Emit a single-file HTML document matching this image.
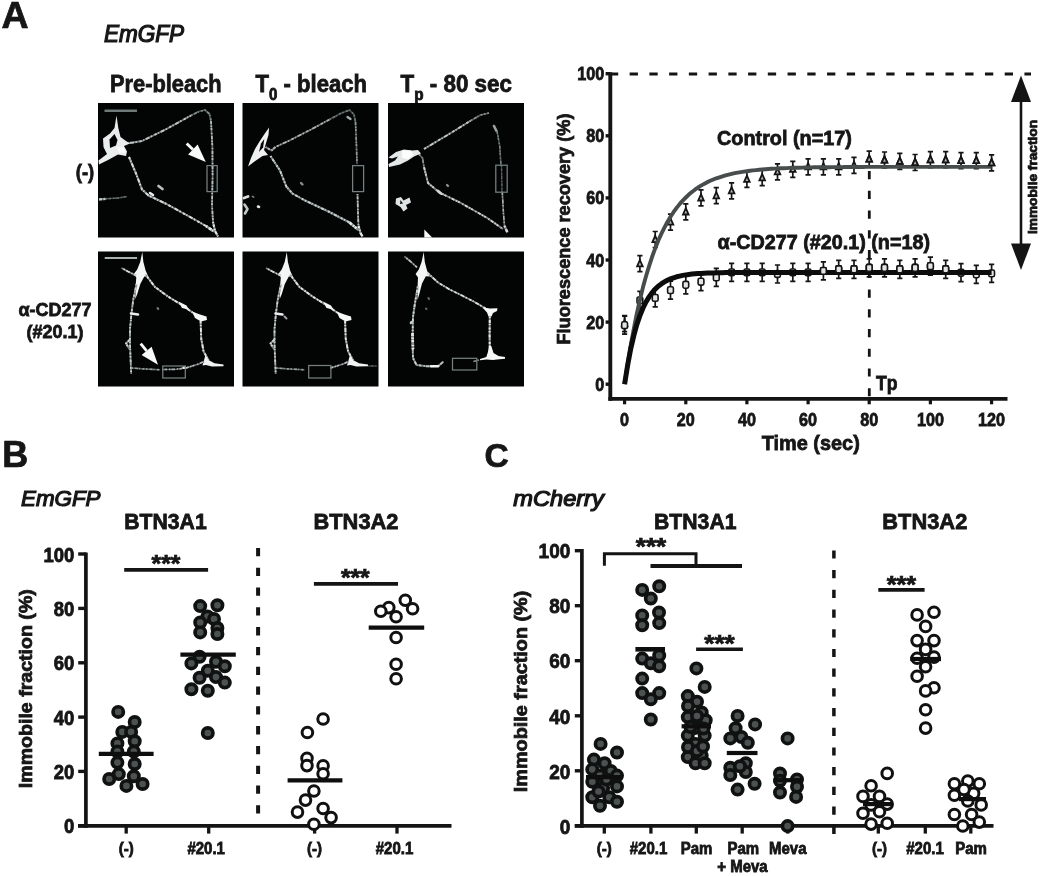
<!DOCTYPE html>
<html lang="en">
<head>
<meta charset="utf-8">
<title>FRAP analysis of BTN3A mobility</title>
<style>
html,body{margin:0;padding:0;background:#fff;}
body{width:1040px;height:876px;overflow:hidden;}
svg{display:block;filter:blur(.45px);}
svg text{font-family:"Liberation Sans",Arial,Helvetica,sans-serif;fill:#141414;stroke:#141414;stroke-width:.7px;}
</style>
</head>
<body>
<svg width="1040" height="876" viewBox="0 0 1040 876">
<defs>
<filter id="soft" x="-5%" y="-5%" width="110%" height="110%"><feGaussianBlur stdDeviation="0.55"/></filter>
<filter id="glow" x="-10%" y="-10%" width="120%" height="120%"><feGaussianBlur stdDeviation="1.1"/></filter>
<filter id="txt" x="-5%" y="-20%" width="110%" height="140%"><feGaussianBlur stdDeviation="0.45"/></filter>
</defs>
<rect width="1040" height="876" fill="#ffffff"/>

<g filter="url(#txt)">
<text x="1.5" y="28.2" font-size="37.5" text-anchor="start" font-weight="bold" stroke="#141414" stroke-width="0.9">A</text>
<text x="2.2" y="467.0" font-size="36" text-anchor="start" font-weight="bold" transform="translate(0 -9.34) scale(1 1.02)" stroke="#141414" stroke-width="0.9">B</text>
<text x="484.6" y="467.3" font-size="33.5" text-anchor="start" font-weight="bold" stroke="#141414" stroke-width="0.9">C</text>
<text x="104.0" y="42.0" font-size="21.5" text-anchor="start" font-weight="normal" font-style="italic" textLength="80.0" lengthAdjust="spacingAndGlyphs" transform="translate(0 -3.36) scale(1 1.08)" style="stroke-width:1.15px">EmGFP</text>
<text x="110.0" y="92.2" font-size="22" text-anchor="start" font-weight="bold" textLength="111.5" lengthAdjust="spacingAndGlyphs" transform="translate(0 -7.38) scale(1 1.08)">Pre-bleach</text>
<text x="255.5" y="92.2" font-size="22" font-weight="bold" textLength="111.5" lengthAdjust="spacingAndGlyphs" transform="translate(0 -7.38) scale(1 1.08)">T<tspan font-size="15" dy="7">0</tspan><tspan dy="-7"> - bleach</tspan></text>
<text x="400.5" y="92.2" font-size="22" font-weight="bold" textLength="111.5" lengthAdjust="spacingAndGlyphs" transform="translate(0 -7.38) scale(1 1.08)">T<tspan font-size="15" dy="7">p</tspan><tspan dy="-7"> - 80 sec</tspan></text>
<text x="85.0" y="179.3" font-size="19.5" text-anchor="middle" font-weight="bold" textLength="18.5" lengthAdjust="spacingAndGlyphs" transform="translate(0 -14.34) scale(1 1.08)">(-)</text>
<text x="55.0" y="316.5" font-size="17.5" text-anchor="middle" font-weight="bold" textLength="73.0" lengthAdjust="spacingAndGlyphs" transform="translate(0 -25.32) scale(1 1.08)">α-CD277</text>
<text x="55.0" y="338.0" font-size="17.5" text-anchor="middle" font-weight="bold" textLength="57.0" lengthAdjust="spacingAndGlyphs" transform="translate(0 -27.04) scale(1 1.08)">(#20.1)</text>
</g>
<rect x="98" y="103" width="136" height="134.5" fill="#030404"/>
<rect x="242.5" y="103" width="136" height="134.5" fill="#030404"/>
<rect x="388" y="103" width="136" height="134.5" fill="#030404"/>
<rect x="98" y="251.5" width="136" height="135" fill="#030404"/>
<rect x="242.5" y="251.5" width="136" height="135" fill="#030404"/>
<rect x="388" y="251.5" width="136" height="135" fill="#030404"/>
<g transform="translate(0.0 0)" filter="url(#soft)">
<path d="M123 143.5 L133 142.5 L142 141 L166.5 129 L191 115.5" fill="none" stroke="#737b7b" stroke-width="1.81" stroke-linejoin="round"/>
<path d="M123 143.5 L133 142.5 L142 141 L166.5 129 L191 115.5" fill="none" stroke="#c0c8c8" stroke-width="1.81" stroke-linejoin="round" stroke-dasharray="2.5 1.5 1 2 4 1.5 1.5 2.5"/>
<path d="M191 115.5 L199 111.5 L205 110 L209.5 114 L211 121" fill="none" stroke="#4f5757" stroke-width="1.72" stroke-linejoin="round"/>
<path d="M191 115.5 L199 111.5 L205 110 L209.5 114 L211 121" fill="none" stroke="#848d8d" stroke-width="1.72" stroke-linejoin="round" stroke-dasharray="1.5 2 3 1 1 2.5 2 1.5"/>
<path d="M211 121 L212.4 147 L212.6 176 L212 205 L213 222" fill="none" stroke="#6c7474" stroke-width="1.72" stroke-linejoin="round"/>
<path d="M211 121 L212.4 147 L212.6 176 L212 205 L213 222" fill="none" stroke="#b4bcbc" stroke-width="1.72" stroke-linejoin="round" stroke-dasharray="3 1.5 1.5 1 2 3 1 2"/>
<path d="M213 222 L215 231 L218 236.5" fill="none" stroke="#889090" stroke-width="2.06" stroke-linejoin="round"/>
<path d="M213 222 L215 231 L218 236.5" fill="none" stroke="#e4e8e8" stroke-width="2.06" stroke-linejoin="round" stroke-dasharray="1 1.5 2.5 2 1.5 1 3.5 2"/>
<path d="M129 157 L136 173.5 L142 189.5 L148.5 195.5 L166.5 204 L195.5 220 L206 226" fill="none" stroke="#808888" stroke-width="1.98" stroke-linejoin="round"/>
<path d="M129 157 L136 173.5 L142 189.5 L148.5 195.5 L166.5 204 L195.5 220 L206 226" fill="none" stroke="#d6dcdc" stroke-width="1.98" stroke-linejoin="round" stroke-dasharray="2.5 1.5 1 2 4 1.5 1.5 2.5"/>
<path d="M206 226 L214 231.5" fill="none" stroke="#8e9696" stroke-width="2.58" stroke-linejoin="round"/>
<path d="M206 226 L214 231.5" fill="none" stroke="#eef1f1" stroke-width="2.58" stroke-linejoin="round" stroke-dasharray="1.5 2 3 1 1 2.5 2 1.5"/>
<path d="M158.5 186 L162.5 189" fill="none" stroke="#b8c0c0" stroke-width="2.75" stroke-linecap="round" stroke-linejoin="round"/>
<path d="M150 193 L153 195" fill="none" stroke="#e8ecec" stroke-width="2.58" stroke-linecap="round" stroke-linejoin="round"/>
<path d="M116.5 115.5 L118.3 128 L120.5 137 L126 141 L130 143.5 L124 146 L127 151.5 L126 156 L118 154.5 L109 159.5 L99 164.5 L98.5 160.5 L107 154 L103.5 147 L103 138.5 L110 133.5 L114.5 128 Z" fill="#e9eded" opacity="1.0"/>
<path d="M109.5 139.5 L114.5 134 L117.5 140 L116 145.5 L110 148 Z" fill="#050606" opacity="1.0"/>
<path d="M117 147 L124 147.5 L125.5 152.5 L119 153 Z" fill="#f8f9f9" opacity="1.0"/>
<path d="M99 199.5 L106 198.8" fill="none" stroke="#757d7d" stroke-width="2.24" stroke-linejoin="round"/>
<path d="M99 199.5 L106 198.8" fill="none" stroke="#c4cccc" stroke-width="2.24" stroke-linejoin="round" stroke-dasharray="3 1.5 1.5 1 2 3 1 2"/>
<path d="M106 198.8 L118 198 L127 196.5" fill="none" stroke="#424a4a" stroke-width="1.38" stroke-linejoin="round"/>
<path d="M106 198.8 L118 198 L127 196.5" fill="none" stroke="#6f7878" stroke-width="1.38" stroke-linejoin="round" stroke-dasharray="1 1.5 2.5 2 1.5 1 3.5 2"/>
</g>
<g transform="translate(144.5 0)" filter="url(#soft)">
<path d="M132 146.5 L145 140.5 L166.5 129.5 L185 119.5" fill="none" stroke="#666e6e" stroke-width="1.72" stroke-linejoin="round"/>
<path d="M132 146.5 L145 140.5 L166.5 129.5 L185 119.5" fill="none" stroke="#aab2b2" stroke-width="1.72" stroke-linejoin="round" stroke-dasharray="2.5 1.5 1 2 4 1.5 1.5 2.5"/>
<path d="M185 119.5 L196 113.5 L205 110 L209.5 114.5 L211 122" fill="none" stroke="#434b4b" stroke-width="1.72" stroke-linejoin="round"/>
<path d="M185 119.5 L196 113.5 L205 110 L209.5 114.5 L211 122" fill="none" stroke="#707979" stroke-width="1.72" stroke-linejoin="round" stroke-dasharray="1.5 2 3 1 1 2.5 2 1.5"/>
<path d="M203 117 L206 119" fill="none" stroke="#a8b0b0" stroke-width="2.24" stroke-linecap="round" stroke-linejoin="round"/>
<path d="M211 122 L212 147 L212.5 164" fill="none" stroke="#555d5d" stroke-width="1.63" stroke-linejoin="round"/>
<path d="M211 122 L212 147 L212.5 164" fill="none" stroke="#8e9797" stroke-width="1.63" stroke-linejoin="round" stroke-dasharray="3 1.5 1.5 1 2 3 1 2"/>
<path d="M213 194 L213.5 214 L214 226" fill="none" stroke="#6e7676" stroke-width="1.72" stroke-linejoin="round"/>
<path d="M213 194 L213.5 214 L214 226" fill="none" stroke="#b8c0c0" stroke-width="1.72" stroke-linejoin="round" stroke-dasharray="1 1.5 2.5 2 1.5 1 3.5 2"/>
<path d="M214 226 L216 233 L218 236.5" fill="none" stroke="#889090" stroke-width="2.24" stroke-linejoin="round"/>
<path d="M214 226 L216 233 L218 236.5" fill="none" stroke="#e4e8e8" stroke-width="2.24" stroke-linejoin="round" stroke-dasharray="2.5 1.5 1 2 4 1.5 1.5 2.5"/>
<path d="M126 156 L135.5 170.5 L141.8 186.5 L148 193.5 L159.5 200 L185 212 L205 222.5" fill="none" stroke="#788080" stroke-width="1.98" stroke-linejoin="round"/>
<path d="M126 156 L135.5 170.5 L141.8 186.5 L148 193.5 L159.5 200 L185 212 L205 222.5" fill="none" stroke="#c8d0d0" stroke-width="1.98" stroke-linejoin="round" stroke-dasharray="1.5 2 3 1 1 2.5 2 1.5"/>
<path d="M205 222.5 L214 230" fill="none" stroke="#8b9393" stroke-width="2.58" stroke-linejoin="round"/>
<path d="M205 222.5 L214 230" fill="none" stroke="#e8ecec" stroke-width="2.58" stroke-linejoin="round" stroke-dasharray="3 1.5 1.5 1 2 3 1 2"/>
<path d="M156.5 183 L158 184.5" fill="none" stroke="#8a9393" stroke-width="2.24" stroke-linecap="round" stroke-linejoin="round"/>
<path d="M124.6 127.5 L124 135 L121.5 143 L119.5 150 L123.5 155 L118 156 L110 161.5 L103.5 166.5 L106.5 158 L110.5 149 L115 141.5 L120 134 Z" fill="#eef1f1" opacity="1.0"/>
<path d="M116.5 143.5 L119.8 139 L118.6 147.5 L114.5 152 Z" fill="#050606" opacity="1.0"/>
<path d="M121 147 L127 150.5 L131 147" fill="none" stroke="#697171" stroke-width="1.89" stroke-linejoin="round"/>
<path d="M121 147 L127 150.5 L131 147" fill="none" stroke="#b0b8b8" stroke-width="1.89" stroke-linejoin="round" stroke-dasharray="1 1.5 2.5 2 1.5 1 3.5 2"/>
<path d="M99.5 198 L103.5 196.5" fill="none" stroke="#d8dddd" stroke-width="2.92" stroke-linecap="round" stroke-linejoin="round"/>
<path d="M100 204.5 L103 209 L100.5 213.5" fill="none" stroke="#c0c8c8" stroke-width="2.58" stroke-linecap="round" stroke-linejoin="round"/>
<path d="M113.5 206.5 L114.5 207" fill="none" stroke="#e4e8e8" stroke-width="2.58" stroke-linecap="round" stroke-linejoin="round"/>
<path d="M108 196.5 L109 197" fill="none" stroke="#707979" stroke-width="1.89" stroke-linecap="round" stroke-linejoin="round"/>
</g>
<g transform="translate(290.0 0)" filter="url(#soft)">
<path d="M134 149 L160 133.5 L181 120.5" fill="none" stroke="#737b7b" stroke-width="1.81" stroke-linejoin="round"/>
<path d="M134 149 L160 133.5 L181 120.5" fill="none" stroke="#c0c8c8" stroke-width="1.81" stroke-linejoin="round" stroke-dasharray="2.5 1.5 1 2 4 1.5 1.5 2.5"/>
<path d="M181 120.5 L190.5 115 L199 113" fill="none" stroke="#525a5a" stroke-width="1.72" stroke-linejoin="round"/>
<path d="M181 120.5 L190.5 115 L199 113" fill="none" stroke="#8a9393" stroke-width="1.72" stroke-linejoin="round" stroke-dasharray="1.5 2 3 1 1 2.5 2 1.5"/>
<path d="M204 126 L206.5 131" fill="none" stroke="#9aa3a3" stroke-width="2.58" stroke-linecap="round" stroke-linejoin="round"/>
<path d="M207 131 L209.7 146 L211 166" fill="none" stroke="#4c5454" stroke-width="1.46" stroke-linejoin="round"/>
<path d="M207 131 L209.7 146 L211 166" fill="none" stroke="#7f8888" stroke-width="1.46" stroke-linejoin="round" stroke-dasharray="3 1.5 1.5 1 2 3 1 2"/>
<path d="M211.5 166 L212 192" fill="none" stroke="#394141" stroke-width="1.29" stroke-linejoin="round"/>
<path d="M211.5 166 L212 192" fill="none" stroke="#5f6868" stroke-width="1.29" stroke-linejoin="round" stroke-dasharray="1 1.5 2.5 2 1.5 1 3.5 2"/>
<path d="M212.3 192.5 L213.5 214 L214.5 226" fill="none" stroke="#646c6c" stroke-width="1.55" stroke-linejoin="round"/>
<path d="M212.3 192.5 L213.5 214 L214.5 226" fill="none" stroke="#a8b0b0" stroke-width="1.55" stroke-linejoin="round" stroke-dasharray="2.5 1.5 1 2 4 1.5 1.5 2.5"/>
<path d="M214.5 226 L217.5 232.5" fill="none" stroke="#818989" stroke-width="2.41" stroke-linejoin="round"/>
<path d="M214.5 226 L217.5 232.5" fill="none" stroke="#d8dddd" stroke-width="2.41" stroke-linejoin="round" stroke-dasharray="1.5 2 3 1 1 2.5 2 1.5"/>
<path d="M134 167 L138 183 L149.4 192.5 L171.3 203.2 L196.9 217.8 L213 229" fill="none" stroke="#7a8282" stroke-width="1.89" stroke-linejoin="round"/>
<path d="M134 167 L138 183 L149.4 192.5 L171.3 203.2 L196.9 217.8 L213 229" fill="none" stroke="#ccd3d3" stroke-width="1.89" stroke-linejoin="round" stroke-dasharray="3 1.5 1.5 1 2 3 1 2"/>
<path d="M127 152 L132.5 158 L134 167" fill="none" stroke="#575f5f" stroke-width="1.55" stroke-linejoin="round"/>
<path d="M127 152 L132.5 158 L134 167" fill="none" stroke="#929b9b" stroke-width="1.55" stroke-linejoin="round" stroke-dasharray="1 1.5 2.5 2 1.5 1 3.5 2"/>
<path d="M148 191 L151 193.5" fill="none" stroke="#d0d6d6" stroke-width="2.92" stroke-linecap="round" stroke-linejoin="round"/>
<path d="M157 185 L158 186" fill="none" stroke="#8a9393" stroke-width="2.24" stroke-linecap="round" stroke-linejoin="round"/>
<path d="M98.5 157.5 L106 152 L114 149.5 L122 150.5 L128 150 L131 153.5 L124 156.5 L118 160.5 L110 164.5 L99 167 L98.5 164 L105 160.5 L108 156.5 L102 158.5 Z" fill="#e4e8e8" opacity="1.0"/>
<path d="M112 150.5 L121 150.5 L123.5 155 L117.5 159.5 L111.5 157.5 Z" fill="#fbfcfc" opacity="1.0"/>
<path d="M106 198.5 L111 197 L113.5 200.5 L119.5 197.5 L121 202.5 L116 205 L117.5 208.5 L113.5 211.5 L110.5 207 L105.5 204 Z" fill="#dfe4e4" opacity="1.0"/>
<path d="M110.5 200 L113 203.5 L110 204 Z" fill="#101212" opacity="1.0"/>
<path d="M134.3 229.5 L142.2 237.5 L134.3 237.5 Z" fill="#fafafa" opacity="1.0"/>
</g>
<line x1="104.5" y1="110.8" x2="137.0" y2="110.8" stroke="#6f7878" stroke-width="2.6"/>
<line x1="104.7" y1="258.0" x2="137.1" y2="258.0" stroke="#aab2b2" stroke-width="1.9"/>
<rect x="207.0" y="165.6" width="10.2" height="26.0" fill="none" stroke="#768080" stroke-width="1.25"/>
<rect x="352.6" y="165.6" width="11.0" height="26.0" fill="none" stroke="#768080" stroke-width="1.25"/>
<rect x="495.8" y="165.2" width="11.4" height="27.0" fill="none" stroke="#768080" stroke-width="1.25"/>
<line x1="186.7" y1="143.5" x2="192.9" y2="149.5" stroke="#fafafa" stroke-width="2.9"/>
<polygon points="205.8,162.0 188.1,154.4 197.6,144.6" fill="#fafafa"/>
<g transform="translate(0.0 0)" filter="url(#soft)">
<path d="M142.3 252 L143.4 262 L145.6 270.5 L148.5 277 L144.3 276.5 L140.3 284 L137.3 294 L135.2 299 L135.6 286 L136.3 277.5 L133.8 274 L137.2 269.5 L140.2 262 Z" fill="#f4f6f6" opacity="1.0"/>
<path d="M136 275.5 L128 271.5 L121.5 268" fill="none" stroke="#7f8787" stroke-width="1.72" stroke-linejoin="round"/>
<path d="M136 275.5 L128 271.5 L121.5 268" fill="none" stroke="#d4dada" stroke-width="1.72" stroke-linejoin="round" stroke-dasharray="2.5 1.5 1 2 4 1.5 1.5 2.5"/>
<path d="M136.5 284 L133.2 300 L131.5 313 L130 329 L130 345 L130.7 361.5 L131.2 374" fill="none" stroke="#788080" stroke-width="1.81" stroke-linejoin="round"/>
<path d="M136.5 284 L133.2 300 L131.5 313 L130 329 L130 345 L130.7 361.5 L131.2 374" fill="none" stroke="#c8d0d0" stroke-width="1.81" stroke-linejoin="round" stroke-dasharray="1.5 2 3 1 1 2.5 2 1.5"/>
<path d="M131 313.5 L138 314.5" fill="none" stroke="#e8ecec" stroke-width="2.58" stroke-linecap="round" stroke-linejoin="round"/>
<path d="M130 339.5 L126 343.5 L129.5 349" fill="none" stroke="#7c8484" stroke-width="1.89" stroke-linejoin="round"/>
<path d="M130 339.5 L126 343.5 L129.5 349" fill="none" stroke="#d0d6d6" stroke-width="1.89" stroke-linejoin="round" stroke-dasharray="3 1.5 1.5 1 2 3 1 2"/>
<path d="M145.5 274.5 L155 287 L168 296.5 L182.5 305.5 L195.5 314.5 L205 318.5" fill="none" stroke="#868e8e" stroke-width="1.89" stroke-linejoin="round"/>
<path d="M145.5 274.5 L155 287 L168 296.5 L182.5 305.5 L195.5 314.5 L205 318.5" fill="none" stroke="#e0e5e5" stroke-width="1.89" stroke-linejoin="round" stroke-dasharray="1 1.5 2.5 2 1.5 1 3.5 2"/>
<path d="M178.5 301.5 L186.5 305.5 L189 309.5 L182 308 Z" fill="#f4f6f6" opacity="1.0"/>
<path d="M192 311.5 L200 314.5 L206.5 316.5 L207 320 L201 321.5 L195 318 Z" fill="#f6f8f8" opacity="1.0"/>
<path d="M200.6 321 L201.2 338.5 L203.6 351.5 L208.5 360" fill="none" stroke="#858d8d" stroke-width="1.89" stroke-linejoin="round"/>
<path d="M200.6 321 L201.2 338.5 L203.6 351.5 L208.5 360" fill="none" stroke="#dfe4e4" stroke-width="1.89" stroke-linejoin="round" stroke-dasharray="2.5 1.5 1 2 4 1.5 1.5 2.5"/>
<path d="M205.5 355 L208.5 360 L214.5 363.3 L223.5 364.6 L223.5 366.2 L212 366.6 L206 365 L202.5 365.6 Z" fill="#f0f3f3" opacity="1.0"/>
<path d="M131.5 368 L145 369 L160 369.8" fill="none" stroke="#5b6363" stroke-width="1.63" stroke-linejoin="round"/>
<path d="M131.5 368 L145 369 L160 369.8" fill="none" stroke="#98a1a1" stroke-width="1.63" stroke-linejoin="round" stroke-dasharray="1.5 2 3 1 1 2.5 2 1.5"/>
<path d="M185.8 368 L198.7 364 L204 361.5" fill="none" stroke="#6e7676" stroke-width="1.63" stroke-linejoin="round"/>
<path d="M185.8 368 L198.7 364 L204 361.5" fill="none" stroke="#b8c0c0" stroke-width="1.63" stroke-linejoin="round" stroke-dasharray="3 1.5 1.5 1 2 3 1 2"/>
<path d="M162 369.5 L176 369.3 L185.5 368" fill="none" stroke="#646c6c" stroke-width="1.63" stroke-linejoin="round"/>
<path d="M162 369.5 L176 369.3 L185.5 368" fill="none" stroke="#a8b0b0" stroke-width="1.63" stroke-linejoin="round" stroke-dasharray="1 1.5 2.5 2 1.5 1 3.5 2"/>
<path d="M183.5 367.8 L185 367.6" fill="none" stroke="#e8ecec" stroke-width="2.58" stroke-linecap="round" stroke-linejoin="round"/>
<path d="M157.5 308 L158.3 309" fill="none" stroke="#6f7878" stroke-width="2.06" stroke-linecap="round" stroke-linejoin="round"/>
</g>
<g transform="translate(144.5 0)" filter="url(#soft)">
<path d="M142.3 252 L143.4 262 L145.6 270.5 L148.5 277 L144.3 276.5 L140.3 284 L137.3 294 L135.2 299 L135.6 286 L136.3 277.5 L133.8 274 L137.2 269.5 L140.2 262 Z" fill="#f4f6f6" opacity="1.0"/>
<path d="M136 275.5 L128 271.5 L121.5 268" fill="none" stroke="#7f8787" stroke-width="1.72" stroke-linejoin="round"/>
<path d="M136 275.5 L128 271.5 L121.5 268" fill="none" stroke="#d4dada" stroke-width="1.72" stroke-linejoin="round" stroke-dasharray="2.5 1.5 1 2 4 1.5 1.5 2.5"/>
<path d="M136.5 284 L133.2 300 L131.5 313 L130 329 L130 345 L130.7 361.5 L131.2 374" fill="none" stroke="#788080" stroke-width="1.81" stroke-linejoin="round"/>
<path d="M136.5 284 L133.2 300 L131.5 313 L130 329 L130 345 L130.7 361.5 L131.2 374" fill="none" stroke="#c8d0d0" stroke-width="1.81" stroke-linejoin="round" stroke-dasharray="1.5 2 3 1 1 2.5 2 1.5"/>
<path d="M131 313.5 L138 314.5" fill="none" stroke="#e8ecec" stroke-width="2.58" stroke-linecap="round" stroke-linejoin="round"/>
<path d="M130 339.5 L126 343.5 L129.5 349" fill="none" stroke="#7c8484" stroke-width="1.89" stroke-linejoin="round"/>
<path d="M130 339.5 L126 343.5 L129.5 349" fill="none" stroke="#d0d6d6" stroke-width="1.89" stroke-linejoin="round" stroke-dasharray="3 1.5 1.5 1 2 3 1 2"/>
<path d="M145.5 274.5 L155 287 L168 296.5 L182.5 305.5 L195.5 314.5 L205 318.5" fill="none" stroke="#868e8e" stroke-width="1.89" stroke-linejoin="round"/>
<path d="M145.5 274.5 L155 287 L168 296.5 L182.5 305.5 L195.5 314.5 L205 318.5" fill="none" stroke="#e0e5e5" stroke-width="1.89" stroke-linejoin="round" stroke-dasharray="1 1.5 2.5 2 1.5 1 3.5 2"/>
<path d="M178.5 301.5 L186.5 305.5 L189 309.5 L182 308 Z" fill="#f4f6f6" opacity="1.0"/>
<path d="M192 311.5 L200 314.5 L206.5 316.5 L207 320 L201 321.5 L195 318 Z" fill="#f6f8f8" opacity="1.0"/>
<path d="M200.6 321 L201.2 338.5 L203.6 351.5 L208.5 360" fill="none" stroke="#858d8d" stroke-width="1.89" stroke-linejoin="round"/>
<path d="M200.6 321 L201.2 338.5 L203.6 351.5 L208.5 360" fill="none" stroke="#dfe4e4" stroke-width="1.89" stroke-linejoin="round" stroke-dasharray="2.5 1.5 1 2 4 1.5 1.5 2.5"/>
<path d="M205.5 355 L208.5 360 L214.5 363.3 L223.5 364.6 L223.5 366.2 L212 366.6 L206 365 L202.5 365.6 Z" fill="#f0f3f3" opacity="1.0"/>
<path d="M131.5 368 L145 369 L160 369.8" fill="none" stroke="#5b6363" stroke-width="1.63" stroke-linejoin="round"/>
<path d="M131.5 368 L145 369 L160 369.8" fill="none" stroke="#98a1a1" stroke-width="1.63" stroke-linejoin="round" stroke-dasharray="1.5 2 3 1 1 2.5 2 1.5"/>
<path d="M185.8 368 L198.7 364 L204 361.5" fill="none" stroke="#6e7676" stroke-width="1.63" stroke-linejoin="round"/>
<path d="M185.8 368 L198.7 364 L204 361.5" fill="none" stroke="#b8c0c0" stroke-width="1.63" stroke-linejoin="round" stroke-dasharray="3 1.5 1.5 1 2 3 1 2"/>
<path d="M140 316.5 L142 318.5" fill="none" stroke="#9aa3a3" stroke-width="2.06" stroke-linecap="round" stroke-linejoin="round"/>
<path d="M224 366 L232 366" fill="none" stroke="#424a4a" stroke-width="1.2" stroke-linejoin="round"/>
<path d="M224 366 L232 366" fill="none" stroke="#6f7878" stroke-width="1.2" stroke-linejoin="round" stroke-dasharray="1 1.5 2.5 2 1.5 1 3.5 2"/>
</g>
<g transform="translate(290.0 0)" filter="url(#soft)">
<path d="M133.7 252 L134.8 262 L137 270.5 L140 276.5 L135.8 276.3 L132 283.5 L129.3 294 L127.5 300 L127.6 286 L128 277.5 L125.6 274 L128.8 269.5 L131.6 262 Z" fill="#f4f6f6" opacity="1.0"/>
<path d="M127 267.3 L120 261 L114.5 256.5" fill="none" stroke="#6e7676" stroke-width="1.63" stroke-linejoin="round"/>
<path d="M127 267.3 L120 261 L114.5 256.5" fill="none" stroke="#b8c0c0" stroke-width="1.63" stroke-linejoin="round" stroke-dasharray="2.5 1.5 1 2 4 1.5 1.5 2.5"/>
<path d="M127.8 286.5 L125 303 L123 317 L122.5 340 L123 358 L126.5 365" fill="none" stroke="#7a8282" stroke-width="1.89" stroke-linejoin="round"/>
<path d="M127.8 286.5 L125 303 L123 317 L122.5 340 L123 358 L126.5 365" fill="none" stroke="#ccd3d3" stroke-width="1.89" stroke-linejoin="round" stroke-dasharray="1.5 2 3 1 1 2.5 2 1.5"/>
<path d="M121.5 322 L120.8 323" fill="none" stroke="#d0d6d6" stroke-width="2.24" stroke-linecap="round" stroke-linejoin="round"/>
<path d="M122.5 333 L123 349" fill="none" stroke="#889090" stroke-width="2.58" stroke-linejoin="round"/>
<path d="M122.5 333 L123 349" fill="none" stroke="#e4e8e8" stroke-width="2.58" stroke-linejoin="round" stroke-dasharray="3 1.5 1.5 1 2 3 1 2"/>
<path d="M126.5 365 L137 366.3 L148.5 366 L153.5 361.5" fill="none" stroke="#6e7676" stroke-width="1.89" stroke-linejoin="round"/>
<path d="M126.5 365 L137 366.3 L148.5 366 L153.5 361.5" fill="none" stroke="#b8c0c0" stroke-width="1.89" stroke-linejoin="round" stroke-dasharray="1 1.5 2.5 2 1.5 1 3.5 2"/>
<path d="M141 366.3 L148 366.2" fill="none" stroke="#f0f3f3" stroke-width="2.41" stroke-linecap="round" stroke-linejoin="round"/>
<path d="M137.6 273 L148 282.5 L159.7 289.5 L172 295.5 L184.5 302 L198.3 310" fill="none" stroke="#828a8a" stroke-width="1.72" stroke-linejoin="round"/>
<path d="M137.6 273 L148 282.5 L159.7 289.5 L172 295.5 L184.5 302 L198.3 310" fill="none" stroke="#dadfdf" stroke-width="1.72" stroke-linejoin="round" stroke-dasharray="2.5 1.5 1 2 4 1.5 1.5 2.5"/>
<path d="M192.5 307.5 L200 308.5 L207.5 308.3 L207 311 L203 313 L201.5 316.5 L198.5 316.5 L197 312.5 Z" fill="#f6f8f8" opacity="1.0"/>
<path d="M199.8 316.5 L199.6 335 L199.8 349" fill="none" stroke="#889090" stroke-width="1.98" stroke-linejoin="round"/>
<path d="M199.8 316.5 L199.6 335 L199.8 349" fill="none" stroke="#e4e8e8" stroke-width="1.98" stroke-linejoin="round" stroke-dasharray="1.5 2 3 1 1 2.5 2 1.5"/>
<path d="M199 346 L201.3 346 L203.5 353 L208.5 356 L215 357 L215 358.8 L207 359.4 L203 360 L196.5 359.6 L190 360.2 L190 359 L196.3 357 L197.8 352.5 Z" fill="#f6f8f8" opacity="1.0"/>
<path d="M183.5 361.5 L189 360" fill="none" stroke="#4c5454" stroke-width="1.38" stroke-linejoin="round"/>
<path d="M183.5 361.5 L189 360" fill="none" stroke="#808989" stroke-width="1.38" stroke-linejoin="round" stroke-dasharray="3 1.5 1.5 1 2 3 1 2"/>
<path d="M138.5 298 L139 299 M136 308.5 L136.5 309" fill="none" stroke="#5f6868" stroke-width="2.06" stroke-linecap="round" stroke-linejoin="round"/>
</g>
<rect x="162.8" y="366.0" width="22.5" height="12.0" fill="none" stroke="#768080" stroke-width="1.25"/>
<rect x="308.7" y="365.5" width="22.2" height="12.5" fill="none" stroke="#768080" stroke-width="1.25"/>
<rect x="452.5" y="358.3" width="24.3" height="11.7" fill="none" stroke="#768080" stroke-width="1.25"/>
<line x1="140.7" y1="343.6" x2="146.6" y2="350.8" stroke="#fafafa" stroke-width="2.9"/>
<polygon points="158.0,364.7 141.6,354.9 151.6,346.7" fill="#fafafa"/>
<line x1="609.9" y1="74.0" x2="1031.0" y2="74.0" stroke="#141414" stroke-width="2.8" stroke-dasharray="8.3 11.44"/>
<line x1="869.3" y1="171.1" x2="869.3" y2="397.5" stroke="#141414" stroke-width="2.8" stroke-dasharray="8.2 11.53"/>
<path d="M624.6 315.7V331.7M622.0 315.7H627.2M622.0 331.7H627.2" stroke="#141414" stroke-width="1.7" fill="none"/>
<path d="M639.9 255.7V271.7M637.3 255.7H642.5M637.3 271.7H642.5" stroke="#141414" stroke-width="1.7" fill="none"/>
<path d="M655.2 231.5V247.5M652.6 231.5H657.8M652.6 247.5H657.8" stroke="#141414" stroke-width="1.7" fill="none"/>
<path d="M670.5 214.1V230.1M667.9 214.1H673.1M667.9 230.1H673.1" stroke="#141414" stroke-width="1.7" fill="none"/>
<path d="M685.8 203.9V219.9M683.2 203.9H688.4M683.2 219.9H688.4" stroke="#141414" stroke-width="1.7" fill="none"/>
<path d="M701.0 189.9V205.9M698.4 189.9H703.6M698.4 205.9H703.6" stroke="#141414" stroke-width="1.7" fill="none"/>
<path d="M716.3 187.7V203.7M713.7 187.7H718.9M713.7 203.7H718.9" stroke="#141414" stroke-width="1.7" fill="none"/>
<path d="M731.6 182.8V198.8M729.0 182.8H734.2M729.0 198.8H734.2" stroke="#141414" stroke-width="1.7" fill="none"/>
<path d="M746.9 171.3V187.3M744.3 171.3H749.5M744.3 187.3H749.5" stroke="#141414" stroke-width="1.7" fill="none"/>
<path d="M762.2 169.7V185.7M759.6 169.7H764.8M759.6 185.7H764.8" stroke="#141414" stroke-width="1.7" fill="none"/>
<path d="M777.5 163.8V179.8M774.9 163.8H780.1M774.9 179.8H780.1" stroke="#141414" stroke-width="1.7" fill="none"/>
<path d="M792.8 161.3V177.3M790.2 161.3H795.4M790.2 177.3H795.4" stroke="#141414" stroke-width="1.7" fill="none"/>
<path d="M808.1 158.8V174.8M805.5 158.8H810.7M805.5 174.8H810.7" stroke="#141414" stroke-width="1.7" fill="none"/>
<path d="M823.4 158.8V174.8M820.8 158.8H826.0M820.8 174.8H826.0" stroke="#141414" stroke-width="1.7" fill="none"/>
<path d="M838.7 158.8V174.8M836.1 158.8H841.3M836.1 174.8H841.3" stroke="#141414" stroke-width="1.7" fill="none"/>
<path d="M854.0 157.3V173.3M851.4 157.3H856.6M851.4 173.3H856.6" stroke="#141414" stroke-width="1.7" fill="none"/>
<path d="M869.2 151.1V167.1M866.6 151.1H871.8M866.6 167.1H871.8" stroke="#141414" stroke-width="1.7" fill="none"/>
<path d="M884.5 152.0V168.0M881.9 152.0H887.1M881.9 168.0H887.1" stroke="#141414" stroke-width="1.7" fill="none"/>
<path d="M899.8 153.3V169.3M897.2 153.3H902.4M897.2 169.3H902.4" stroke="#141414" stroke-width="1.7" fill="none"/>
<path d="M915.1 154.5V170.5M912.5 154.5H917.7M912.5 170.5H917.7" stroke="#141414" stroke-width="1.7" fill="none"/>
<path d="M930.4 151.7V167.7M927.8 151.7H933.0M927.8 167.7H933.0" stroke="#141414" stroke-width="1.7" fill="none"/>
<path d="M945.7 151.7V167.7M943.1 151.7H948.3M943.1 167.7H948.3" stroke="#141414" stroke-width="1.7" fill="none"/>
<path d="M961.0 152.6V168.6M958.4 152.6H963.6M958.4 168.6H963.6" stroke="#141414" stroke-width="1.7" fill="none"/>
<path d="M976.3 152.6V168.6M973.7 152.6H978.9M973.7 168.6H978.9" stroke="#141414" stroke-width="1.7" fill="none"/>
<path d="M991.6 154.8V170.8M989.0 154.8H994.2M989.0 170.8H994.2" stroke="#141414" stroke-width="1.7" fill="none"/>
<path d="M624.6 316.2V334.2M622.0 316.2H627.2M622.0 334.2H627.2" stroke="#141414" stroke-width="1.7" fill="none"/>
<path d="M639.9 291.4V309.4M637.3 291.4H642.5M637.3 309.4H642.5" stroke="#141414" stroke-width="1.7" fill="none"/>
<path d="M655.2 288.9V306.9M652.6 288.9H657.8M652.6 306.9H657.8" stroke="#141414" stroke-width="1.7" fill="none"/>
<path d="M670.5 281.1V299.1M667.9 281.1H673.1M667.9 299.1H673.1" stroke="#141414" stroke-width="1.7" fill="none"/>
<path d="M685.8 275.8V293.8M683.2 275.8H688.4M683.2 293.8H688.4" stroke="#141414" stroke-width="1.7" fill="none"/>
<path d="M701.0 272.7V290.7M698.4 272.7H703.6M698.4 290.7H703.6" stroke="#141414" stroke-width="1.7" fill="none"/>
<path d="M716.3 268.4V286.4M713.7 268.4H718.9M713.7 286.4H718.9" stroke="#141414" stroke-width="1.7" fill="none"/>
<path d="M731.6 263.4V281.4M729.0 263.4H734.2M729.0 281.4H734.2" stroke="#141414" stroke-width="1.7" fill="none"/>
<path d="M746.9 263.4V281.4M744.3 263.4H749.5M744.3 281.4H749.5" stroke="#141414" stroke-width="1.7" fill="none"/>
<path d="M762.2 263.4V281.4M759.6 263.4H764.8M759.6 281.4H764.8" stroke="#141414" stroke-width="1.7" fill="none"/>
<path d="M777.5 265.0V283.0M774.9 265.0H780.1M774.9 283.0H780.1" stroke="#141414" stroke-width="1.7" fill="none"/>
<path d="M792.8 263.4V281.4M790.2 263.4H795.4M790.2 281.4H795.4" stroke="#141414" stroke-width="1.7" fill="none"/>
<path d="M808.1 263.4V281.4M805.5 263.4H810.7M805.5 281.4H810.7" stroke="#141414" stroke-width="1.7" fill="none"/>
<path d="M823.4 261.9V279.9M820.8 261.9H826.0M820.8 279.9H826.0" stroke="#141414" stroke-width="1.7" fill="none"/>
<path d="M838.7 260.3V278.3M836.1 260.3H841.3M836.1 278.3H841.3" stroke="#141414" stroke-width="1.7" fill="none"/>
<path d="M854.0 260.3V278.3M851.4 260.3H856.6M851.4 278.3H856.6" stroke="#141414" stroke-width="1.7" fill="none"/>
<path d="M869.2 258.8V276.8M866.6 258.8H871.8M866.6 276.8H871.8" stroke="#141414" stroke-width="1.7" fill="none"/>
<path d="M884.5 258.8V276.8M881.9 258.8H887.1M881.9 276.8H887.1" stroke="#141414" stroke-width="1.7" fill="none"/>
<path d="M899.8 260.3V278.3M897.2 260.3H902.4M897.2 278.3H902.4" stroke="#141414" stroke-width="1.7" fill="none"/>
<path d="M915.1 258.8V276.8M912.5 258.8H917.7M912.5 276.8H917.7" stroke="#141414" stroke-width="1.7" fill="none"/>
<path d="M930.4 257.2V275.2M927.8 257.2H933.0M927.8 275.2H933.0" stroke="#141414" stroke-width="1.7" fill="none"/>
<path d="M945.7 260.3V278.3M943.1 260.3H948.3M943.1 278.3H948.3" stroke="#141414" stroke-width="1.7" fill="none"/>
<path d="M961.0 263.7V281.7M958.4 263.7H963.6M958.4 281.7H963.6" stroke="#141414" stroke-width="1.7" fill="none"/>
<path d="M976.3 265.3V283.3M973.7 265.3H978.9M973.7 283.3H978.9" stroke="#141414" stroke-width="1.7" fill="none"/>
<path d="M991.6 264.4V282.4M989.0 264.4H994.2M989.0 282.4H994.2" stroke="#141414" stroke-width="1.7" fill="none"/>
<polygon points="624.6,320.0 627.4,326.3 621.8,326.3" fill="#b4b4b4" stroke="#141414" stroke-width="1.8"/>
<polygon points="639.9,260.0 642.7,266.3 637.1,266.3" fill="#b4b4b4" stroke="#141414" stroke-width="1.8"/>
<polygon points="655.2,235.8 658.0,242.1 652.4,242.1" fill="#b4b4b4" stroke="#141414" stroke-width="1.8"/>
<polygon points="670.5,218.4 673.3,224.7 667.7,224.7" fill="#b4b4b4" stroke="#141414" stroke-width="1.8"/>
<polygon points="685.8,208.2 688.6,214.5 683.0,214.5" fill="#b4b4b4" stroke="#141414" stroke-width="1.8"/>
<polygon points="701.0,194.2 703.8,200.5 698.2,200.5" fill="#b4b4b4" stroke="#141414" stroke-width="1.8"/>
<polygon points="716.3,192.0 719.1,198.3 713.5,198.3" fill="#b4b4b4" stroke="#141414" stroke-width="1.8"/>
<polygon points="731.6,187.1 734.4,193.4 728.8,193.4" fill="#b4b4b4" stroke="#141414" stroke-width="1.8"/>
<polygon points="746.9,175.6 749.7,181.9 744.1,181.9" fill="#b4b4b4" stroke="#141414" stroke-width="1.8"/>
<polygon points="762.2,174.0 765.0,180.3 759.4,180.3" fill="#b4b4b4" stroke="#141414" stroke-width="1.8"/>
<polygon points="777.5,168.1 780.3,174.4 774.7,174.4" fill="#b4b4b4" stroke="#141414" stroke-width="1.8"/>
<polygon points="792.8,165.6 795.6,171.9 790.0,171.9" fill="#b4b4b4" stroke="#141414" stroke-width="1.8"/>
<polygon points="808.1,163.2 810.9,169.4 805.3,169.4" fill="#b4b4b4" stroke="#141414" stroke-width="1.8"/>
<polygon points="823.4,163.2 826.2,169.4 820.6,169.4" fill="#b4b4b4" stroke="#141414" stroke-width="1.8"/>
<polygon points="838.7,163.2 841.5,169.4 835.9,169.4" fill="#b4b4b4" stroke="#141414" stroke-width="1.8"/>
<polygon points="854.0,161.6 856.8,167.9 851.2,167.9" fill="#b4b4b4" stroke="#141414" stroke-width="1.8"/>
<polygon points="869.2,155.4 872.0,161.7 866.4,161.7" fill="#b4b4b4" stroke="#141414" stroke-width="1.8"/>
<polygon points="884.5,156.3 887.3,162.6 881.7,162.6" fill="#b4b4b4" stroke="#141414" stroke-width="1.8"/>
<polygon points="899.8,157.6 902.6,163.9 897.0,163.9" fill="#b4b4b4" stroke="#141414" stroke-width="1.8"/>
<polygon points="915.1,158.8 917.9,165.1 912.3,165.1" fill="#b4b4b4" stroke="#141414" stroke-width="1.8"/>
<polygon points="930.4,156.0 933.2,162.3 927.6,162.3" fill="#b4b4b4" stroke="#141414" stroke-width="1.8"/>
<polygon points="945.7,156.0 948.5,162.3 942.9,162.3" fill="#b4b4b4" stroke="#141414" stroke-width="1.8"/>
<polygon points="961.0,156.9 963.8,163.2 958.2,163.2" fill="#b4b4b4" stroke="#141414" stroke-width="1.8"/>
<polygon points="976.3,156.9 979.1,163.2 973.5,163.2" fill="#b4b4b4" stroke="#141414" stroke-width="1.8"/>
<polygon points="991.6,159.1 994.4,165.4 988.8,165.4" fill="#b4b4b4" stroke="#141414" stroke-width="1.8"/>
<rect x="621.7" y="321.8" width="5.8" height="6.8" rx="1.6" fill="#e4e4e4" stroke="#141414" stroke-width="1.6"/>
<rect x="637.0" y="297.0" width="5.8" height="6.8" rx="1.6" fill="#e4e4e4" stroke="#141414" stroke-width="1.6"/>
<rect x="652.3" y="294.5" width="5.8" height="6.8" rx="1.6" fill="#e4e4e4" stroke="#141414" stroke-width="1.6"/>
<rect x="667.6" y="286.7" width="5.8" height="6.8" rx="1.6" fill="#e4e4e4" stroke="#141414" stroke-width="1.6"/>
<rect x="682.9" y="281.4" width="5.8" height="6.8" rx="1.6" fill="#e4e4e4" stroke="#141414" stroke-width="1.6"/>
<rect x="698.1" y="278.3" width="5.8" height="6.8" rx="1.6" fill="#e4e4e4" stroke="#141414" stroke-width="1.6"/>
<rect x="713.4" y="274.0" width="5.8" height="6.8" rx="1.6" fill="#e4e4e4" stroke="#141414" stroke-width="1.6"/>
<rect x="728.7" y="269.0" width="5.8" height="6.8" rx="1.6" fill="#e4e4e4" stroke="#141414" stroke-width="1.6"/>
<rect x="744.0" y="269.0" width="5.8" height="6.8" rx="1.6" fill="#e4e4e4" stroke="#141414" stroke-width="1.6"/>
<rect x="759.3" y="269.0" width="5.8" height="6.8" rx="1.6" fill="#e4e4e4" stroke="#141414" stroke-width="1.6"/>
<rect x="774.6" y="270.6" width="5.8" height="6.8" rx="1.6" fill="#e4e4e4" stroke="#141414" stroke-width="1.6"/>
<rect x="789.9" y="269.0" width="5.8" height="6.8" rx="1.6" fill="#e4e4e4" stroke="#141414" stroke-width="1.6"/>
<rect x="805.2" y="269.0" width="5.8" height="6.8" rx="1.6" fill="#e4e4e4" stroke="#141414" stroke-width="1.6"/>
<rect x="820.5" y="267.5" width="5.8" height="6.8" rx="1.6" fill="#e4e4e4" stroke="#141414" stroke-width="1.6"/>
<rect x="835.8" y="265.9" width="5.8" height="6.8" rx="1.6" fill="#e4e4e4" stroke="#141414" stroke-width="1.6"/>
<rect x="851.1" y="265.9" width="5.8" height="6.8" rx="1.6" fill="#e4e4e4" stroke="#141414" stroke-width="1.6"/>
<rect x="866.3" y="264.4" width="5.8" height="6.8" rx="1.6" fill="#e4e4e4" stroke="#141414" stroke-width="1.6"/>
<rect x="881.6" y="264.4" width="5.8" height="6.8" rx="1.6" fill="#e4e4e4" stroke="#141414" stroke-width="1.6"/>
<rect x="896.9" y="265.9" width="5.8" height="6.8" rx="1.6" fill="#e4e4e4" stroke="#141414" stroke-width="1.6"/>
<rect x="912.2" y="264.4" width="5.8" height="6.8" rx="1.6" fill="#e4e4e4" stroke="#141414" stroke-width="1.6"/>
<rect x="927.5" y="262.8" width="5.8" height="6.8" rx="1.6" fill="#e4e4e4" stroke="#141414" stroke-width="1.6"/>
<rect x="942.8" y="265.9" width="5.8" height="6.8" rx="1.6" fill="#e4e4e4" stroke="#141414" stroke-width="1.6"/>
<rect x="958.1" y="269.3" width="5.8" height="6.8" rx="1.6" fill="#e4e4e4" stroke="#141414" stroke-width="1.6"/>
<rect x="973.4" y="270.9" width="5.8" height="6.8" rx="1.6" fill="#e4e4e4" stroke="#141414" stroke-width="1.6"/>
<rect x="988.7" y="270.0" width="5.8" height="6.8" rx="1.6" fill="#e4e4e4" stroke="#141414" stroke-width="1.6"/>
<polyline points="624.6,384.2 627.7,363.9 630.7,345.5 633.8,328.8 636.8,313.7 639.9,300.0 642.9,287.6 646.0,276.3 649.1,266.1 652.1,256.8 655.2,248.4 658.2,240.8 661.3,233.9 664.4,227.6 667.4,222.0 670.5,216.8 673.5,212.2 676.6,207.9 679.6,204.1 682.7,200.6 685.8,197.5 688.8,194.6 691.9,192.0 694.9,189.7 698.0,187.5 701.0,185.6 704.1,183.9 707.2,182.3 710.2,180.8 713.3,179.5 716.3,178.3 719.4,177.3 722.5,176.3 725.5,175.4 728.6,174.6 731.6,173.9 734.7,173.2 737.7,172.6 740.8,172.1 743.9,171.6 746.9,171.2 750.0,170.8 753.0,170.4 756.1,170.1 759.2,169.8 762.2,169.5 765.3,169.2 768.3,169.0 771.4,168.8 774.4,168.6 777.5,168.5 780.6,168.3 783.6,168.2 786.7,168.1 789.7,167.9 792.8,167.8 795.8,167.7 798.9,167.7 802.0,167.6 805.0,167.5 808.1,167.5 811.1,167.4 814.2,167.3 817.3,167.3 820.3,167.3 823.4,167.2 826.4,167.2 829.5,167.2 832.5,167.1 835.6,167.1 838.7,167.1 841.7,167.1 844.8,167.0 847.8,167.0 850.9,167.0 854.0,167.0 857.0,167.0 860.1,167.0 863.1,167.0 866.2,166.9 869.2,166.9 872.3,166.9 875.4,166.9 878.4,166.9 881.5,166.9 884.5,166.9 887.6,166.9 890.6,166.9 893.7,166.9 896.8,166.9 899.8,166.9 902.9,166.9 905.9,166.9 909.0,166.9 912.1,166.9 915.1,166.9 918.2,166.9 921.2,166.9 924.3,166.9 927.3,166.9 930.4,166.9 933.5,166.9 936.5,166.9 939.6,166.9 942.6,166.9 945.7,166.9 948.7,166.9 951.8,166.9 954.9,166.9 957.9,166.9 961.0,166.9 964.0,166.9 967.1,166.9 970.2,166.9 973.2,166.9 976.3,166.9 979.3,166.9 982.4,166.9 985.4,166.9 988.5,166.9 991.6,166.9" fill="none" stroke="#474d4d" stroke-width="3.9" stroke-linejoin="round"/>
<polyline points="624.6,384.2 627.7,364.9 630.7,348.9 633.8,335.6 636.8,324.7 639.9,315.6 642.9,308.2 646.0,302.0 649.1,296.9 652.1,292.6 655.2,289.1 658.2,286.2 661.3,283.9 664.4,281.9 667.4,280.2 670.5,278.9 673.5,277.8 676.6,276.8 679.6,276.1 682.7,275.4 685.8,274.9 688.8,274.5 691.9,274.1 694.9,273.8 698.0,273.6 701.0,273.4 704.1,273.2 707.2,273.1 710.2,273.0 713.3,272.9 716.3,272.8 719.4,272.7 722.5,272.7 725.5,272.6 728.6,272.6 731.6,272.6 734.7,272.5 737.7,272.5 740.8,272.5 743.9,272.5 746.9,272.5 750.0,272.5 753.0,272.5 756.1,272.5 759.2,272.4 762.2,272.4 765.3,272.4 768.3,272.4 771.4,272.4 774.4,272.4 777.5,272.4 780.6,272.4 783.6,272.4 786.7,272.4 789.7,272.4 792.8,272.4 795.8,272.4 798.9,272.4 802.0,272.4 805.0,272.4 808.1,272.4 811.1,272.4 814.2,272.4 817.3,272.4 820.3,272.4 823.4,272.4 826.4,272.4 829.5,272.4 832.5,272.4 835.6,272.4 838.7,272.4 841.7,272.4 844.8,272.4 847.8,272.4 850.9,272.4 854.0,272.4 857.0,272.4 860.1,272.4 863.1,272.4 866.2,272.4 869.2,272.4 872.3,272.4 875.4,272.4 878.4,272.4 881.5,272.4 884.5,272.4 887.6,272.4 890.6,272.4 893.7,272.4 896.8,272.4 899.8,272.4 902.9,272.4 905.9,272.4 909.0,272.4 912.1,272.4 915.1,272.4 918.2,272.4 921.2,272.4 924.3,272.4 927.3,272.4 930.4,272.4 933.5,272.4 936.5,272.4 939.6,272.4 942.6,272.4 945.7,272.4 948.7,272.4 951.8,272.4 954.9,272.4 957.9,272.4 961.0,272.4 964.0,272.4 967.1,272.4 970.2,272.4 973.2,272.4 976.3,272.4 979.3,272.4 982.4,272.4 985.4,272.4 988.5,272.4 991.6,272.4" fill="none" stroke="#0c0c0c" stroke-width="5.0" stroke-linejoin="round"/>
<polygon points="869.2,155.4 872.0,161.7 866.4,161.7" fill="#b4b4b4" stroke="#141414" stroke-width="1.8"/>
<polygon points="884.5,156.3 887.3,162.6 881.7,162.6" fill="#b4b4b4" stroke="#141414" stroke-width="1.8"/>
<polygon points="899.8,157.6 902.6,163.9 897.0,163.9" fill="#b4b4b4" stroke="#141414" stroke-width="1.8"/>
<polygon points="915.1,158.8 917.9,165.1 912.3,165.1" fill="#b4b4b4" stroke="#141414" stroke-width="1.8"/>
<polygon points="930.4,156.0 933.2,162.3 927.6,162.3" fill="#b4b4b4" stroke="#141414" stroke-width="1.8"/>
<polygon points="945.7,156.0 948.5,162.3 942.9,162.3" fill="#b4b4b4" stroke="#141414" stroke-width="1.8"/>
<polygon points="961.0,156.9 963.8,163.2 958.2,163.2" fill="#b4b4b4" stroke="#141414" stroke-width="1.8"/>
<polygon points="976.3,156.9 979.1,163.2 973.5,163.2" fill="#b4b4b4" stroke="#141414" stroke-width="1.8"/>
<polygon points="991.6,159.1 994.4,165.4 988.8,165.4" fill="#b4b4b4" stroke="#141414" stroke-width="1.8"/>
<rect x="820.5" y="267.5" width="5.8" height="6.8" rx="1.6" fill="#e4e4e4" stroke="#141414" stroke-width="1.6"/>
<rect x="835.8" y="265.9" width="5.8" height="6.8" rx="1.6" fill="#e4e4e4" stroke="#141414" stroke-width="1.6"/>
<rect x="851.1" y="265.9" width="5.8" height="6.8" rx="1.6" fill="#e4e4e4" stroke="#141414" stroke-width="1.6"/>
<rect x="866.3" y="264.4" width="5.8" height="6.8" rx="1.6" fill="#e4e4e4" stroke="#141414" stroke-width="1.6"/>
<rect x="881.6" y="264.4" width="5.8" height="6.8" rx="1.6" fill="#e4e4e4" stroke="#141414" stroke-width="1.6"/>
<rect x="896.9" y="265.9" width="5.8" height="6.8" rx="1.6" fill="#e4e4e4" stroke="#141414" stroke-width="1.6"/>
<rect x="912.2" y="264.4" width="5.8" height="6.8" rx="1.6" fill="#e4e4e4" stroke="#141414" stroke-width="1.6"/>
<rect x="927.5" y="262.8" width="5.8" height="6.8" rx="1.6" fill="#e4e4e4" stroke="#141414" stroke-width="1.6"/>
<rect x="942.8" y="265.9" width="5.8" height="6.8" rx="1.6" fill="#e4e4e4" stroke="#141414" stroke-width="1.6"/>
<line x1="610.3" y1="72.3" x2="610.3" y2="400.8" stroke="#141414" stroke-width="3.9"/>
<line x1="608.4" y1="398.9" x2="1007.5" y2="398.9" stroke="#141414" stroke-width="3.8"/>
<line x1="605.6" y1="384.2" x2="610.0" y2="384.2" stroke="#141414" stroke-width="3.4"/>
<line x1="605.6" y1="322.1" x2="610.0" y2="322.1" stroke="#141414" stroke-width="3.4"/>
<line x1="605.6" y1="260.0" x2="610.0" y2="260.0" stroke="#141414" stroke-width="3.4"/>
<line x1="605.6" y1="197.9" x2="610.0" y2="197.9" stroke="#141414" stroke-width="3.4"/>
<line x1="605.6" y1="135.8" x2="610.0" y2="135.8" stroke="#141414" stroke-width="3.4"/>
<line x1="605.6" y1="73.7" x2="610.0" y2="73.7" stroke="#141414" stroke-width="3.4"/>
<line x1="624.6" y1="399.0" x2="624.6" y2="404.3" stroke="#141414" stroke-width="3.2"/>
<line x1="685.8" y1="399.0" x2="685.8" y2="404.3" stroke="#141414" stroke-width="3.2"/>
<line x1="746.9" y1="399.0" x2="746.9" y2="404.3" stroke="#141414" stroke-width="3.2"/>
<line x1="808.1" y1="399.0" x2="808.1" y2="404.3" stroke="#141414" stroke-width="3.2"/>
<line x1="869.2" y1="399.0" x2="869.2" y2="404.3" stroke="#141414" stroke-width="3.2"/>
<line x1="930.4" y1="399.0" x2="930.4" y2="404.3" stroke="#141414" stroke-width="3.2"/>
<line x1="991.6" y1="399.0" x2="991.6" y2="404.3" stroke="#141414" stroke-width="3.2"/>
<g filter="url(#txt)">
<text x="604.3" y="390.8" font-size="17" text-anchor="end" font-weight="bold" textLength="9.0" lengthAdjust="spacingAndGlyphs" transform="translate(0 -31.26) scale(1 1.08)">0</text>
<text x="604.3" y="328.7" font-size="17" text-anchor="end" font-weight="bold" textLength="18.0" lengthAdjust="spacingAndGlyphs" transform="translate(0 -26.30) scale(1 1.08)">20</text>
<text x="604.3" y="266.6" font-size="17" text-anchor="end" font-weight="bold" textLength="18.0" lengthAdjust="spacingAndGlyphs" transform="translate(0 -21.33) scale(1 1.08)">40</text>
<text x="604.3" y="204.5" font-size="17" text-anchor="end" font-weight="bold" textLength="18.0" lengthAdjust="spacingAndGlyphs" transform="translate(0 -16.36) scale(1 1.08)">60</text>
<text x="604.3" y="142.4" font-size="17" text-anchor="end" font-weight="bold" textLength="18.0" lengthAdjust="spacingAndGlyphs" transform="translate(0 -11.39) scale(1 1.08)">80</text>
<text x="604.3" y="80.3" font-size="17" text-anchor="end" font-weight="bold" textLength="27.0" lengthAdjust="spacingAndGlyphs" transform="translate(0 -6.42) scale(1 1.08)">100</text>
<text x="624.6" y="425.8" font-size="17" text-anchor="middle" font-weight="bold" textLength="9.0" lengthAdjust="spacingAndGlyphs" transform="translate(0 -34.06) scale(1 1.08)">0</text>
<text x="685.8" y="425.8" font-size="17" text-anchor="middle" font-weight="bold" textLength="18.0" lengthAdjust="spacingAndGlyphs" transform="translate(0 -34.06) scale(1 1.08)">20</text>
<text x="746.9" y="425.8" font-size="17" text-anchor="middle" font-weight="bold" textLength="18.0" lengthAdjust="spacingAndGlyphs" transform="translate(0 -34.06) scale(1 1.08)">40</text>
<text x="808.1" y="425.8" font-size="17" text-anchor="middle" font-weight="bold" textLength="18.0" lengthAdjust="spacingAndGlyphs" transform="translate(0 -34.06) scale(1 1.08)">60</text>
<text x="869.2" y="425.8" font-size="17" text-anchor="middle" font-weight="bold" textLength="18.0" lengthAdjust="spacingAndGlyphs" transform="translate(0 -34.06) scale(1 1.08)">80</text>
<text x="930.4" y="425.8" font-size="17" text-anchor="middle" font-weight="bold" textLength="27.0" lengthAdjust="spacingAndGlyphs" transform="translate(0 -34.06) scale(1 1.08)">100</text>
<text x="991.6" y="425.8" font-size="17" text-anchor="middle" font-weight="bold" textLength="27.0" lengthAdjust="spacingAndGlyphs" transform="translate(0 -34.06) scale(1 1.08)">120</text>
<text x="810.8" y="449.8" font-size="19.5" text-anchor="middle" font-weight="bold" textLength="98.0" lengthAdjust="spacingAndGlyphs" transform="translate(0 -35.98) scale(1 1.08)">Time (sec)</text>
<text x="569.8" y="229.0" font-size="17.5" text-anchor="middle" font-weight="bold" textLength="231.0" lengthAdjust="spacingAndGlyphs" transform="rotate(-90 569.8 229.0) translate(0 -18.32) scale(1 1.08)">Fluorescence recovery (%)</text>
<text x="717.0" y="145.0" font-size="18.5" text-anchor="start" font-weight="bold" textLength="135.0" lengthAdjust="spacingAndGlyphs" transform="translate(0 -11.60) scale(1 1.08)">Control (n=17)</text>
<text x="717.5" y="248.8" font-size="18.5" text-anchor="start" font-weight="bold" textLength="212.5" lengthAdjust="spacingAndGlyphs" transform="translate(0 -19.90) scale(1 1.08)">α-CD277 (#20.1) (n=18)</text>
<text x="876.0" y="390.0" font-size="18" text-anchor="start" font-weight="bold" textLength="21.5" lengthAdjust="spacingAndGlyphs" transform="translate(0 -31.20) scale(1 1.08)">Tp</text>
</g>
<text x="1037.0" y="177.0" font-size="11.3" text-anchor="middle" font-weight="bold" textLength="114.0" lengthAdjust="spacingAndGlyphs" transform="rotate(-90 1037.0 177.0) translate(0 -14.16) scale(1 1.08)" stroke="#141414" stroke-width="0.3">Immobile fraction</text>
<line x1="1021.0" y1="98.0" x2="1021.0" y2="247.0" stroke="#141414" stroke-width="2.6"/>
<polygon points="1021,75.5 1031,102 1011,102" fill="#141414"/>
<polygon points="1021,270 1031,243.5 1011,243.5" fill="#141414"/>
<line x1="85.9" y1="552.4" x2="85.9" y2="827.7" stroke="#141414" stroke-width="3.7"/>
<line x1="78.0" y1="825.8" x2="451.5" y2="825.8" stroke="#141414" stroke-width="3.8"/>
<line x1="78.2" y1="825.8" x2="86.0" y2="825.8" stroke="#141414" stroke-width="3.4"/>
<line x1="78.2" y1="771.4" x2="86.0" y2="771.4" stroke="#141414" stroke-width="3.4"/>
<line x1="78.2" y1="717.1" x2="86.0" y2="717.1" stroke="#141414" stroke-width="3.4"/>
<line x1="78.2" y1="662.8" x2="86.0" y2="662.8" stroke="#141414" stroke-width="3.4"/>
<line x1="78.2" y1="608.4" x2="86.0" y2="608.4" stroke="#141414" stroke-width="3.4"/>
<line x1="78.2" y1="554.0" x2="86.0" y2="554.0" stroke="#141414" stroke-width="3.4"/>
<line x1="126.2" y1="825.8" x2="126.2" y2="833.6" stroke="#141414" stroke-width="3.3"/>
<line x1="208.7" y1="825.8" x2="208.7" y2="833.6" stroke="#141414" stroke-width="3.3"/>
<line x1="314.6" y1="825.8" x2="314.6" y2="833.6" stroke="#141414" stroke-width="3.3"/>
<line x1="397.0" y1="825.8" x2="397.0" y2="833.6" stroke="#141414" stroke-width="3.3"/>
<line x1="258.1" y1="547.9" x2="258.1" y2="814.0" stroke="#141414" stroke-width="4" stroke-dasharray="8.3 11.5"/>
<circle cx="118.2" cy="711.9" r="5.1499999999999995" fill="#4c5252" stroke="#101212" stroke-width="3.7"/>
<circle cx="134.7" cy="722.0" r="5.1499999999999995" fill="#4c5252" stroke="#101212" stroke-width="3.7"/>
<circle cx="122.3" cy="731.9" r="5.1499999999999995" fill="#4c5252" stroke="#101212" stroke-width="3.7"/>
<circle cx="131.1" cy="731.9" r="5.1499999999999995" fill="#4c5252" stroke="#101212" stroke-width="3.7"/>
<circle cx="117.4" cy="743.4" r="5.1499999999999995" fill="#4c5252" stroke="#101212" stroke-width="3.7"/>
<circle cx="134.7" cy="741.2" r="5.1499999999999995" fill="#4c5252" stroke="#101212" stroke-width="3.7"/>
<circle cx="117.4" cy="751.6" r="5.1499999999999995" fill="#4c5252" stroke="#101212" stroke-width="3.7"/>
<circle cx="133.8" cy="751.6" r="5.1499999999999995" fill="#4c5252" stroke="#101212" stroke-width="3.7"/>
<circle cx="117.4" cy="762.6" r="5.1499999999999995" fill="#4c5252" stroke="#101212" stroke-width="3.7"/>
<circle cx="134.7" cy="764.0" r="5.1499999999999995" fill="#4c5252" stroke="#101212" stroke-width="3.7"/>
<circle cx="118.8" cy="774.1" r="5.1499999999999995" fill="#4c5252" stroke="#101212" stroke-width="3.7"/>
<circle cx="133.8" cy="776.3" r="5.1499999999999995" fill="#4c5252" stroke="#101212" stroke-width="3.7"/>
<circle cx="109.2" cy="779.0" r="5.1499999999999995" fill="#4c5252" stroke="#101212" stroke-width="3.7"/>
<circle cx="126.4" cy="785.9" r="5.1499999999999995" fill="#4c5252" stroke="#101212" stroke-width="3.7"/>
<circle cx="142.6" cy="784.0" r="5.1499999999999995" fill="#4c5252" stroke="#101212" stroke-width="3.7"/>
<line x1="98.8" y1="753.8" x2="153.6" y2="753.8" stroke="#0e0e0e" stroke-width="4.2"/>
<circle cx="200.2" cy="606.1" r="5.1499999999999995" fill="#4c5252" stroke="#101212" stroke-width="3.7"/>
<circle cx="217.4" cy="605.3" r="5.1499999999999995" fill="#4c5252" stroke="#101212" stroke-width="3.7"/>
<circle cx="207.5" cy="616.5" r="5.1499999999999995" fill="#4c5252" stroke="#101212" stroke-width="3.7"/>
<circle cx="214.0" cy="619.0" r="5.1499999999999995" fill="#4c5252" stroke="#101212" stroke-width="3.7"/>
<circle cx="200.2" cy="622.5" r="5.1499999999999995" fill="#4c5252" stroke="#101212" stroke-width="3.7"/>
<circle cx="217.4" cy="628.0" r="5.1499999999999995" fill="#4c5252" stroke="#101212" stroke-width="3.7"/>
<circle cx="200.2" cy="632.4" r="5.1499999999999995" fill="#4c5252" stroke="#101212" stroke-width="3.7"/>
<circle cx="217.4" cy="634.0" r="5.1499999999999995" fill="#4c5252" stroke="#101212" stroke-width="3.7"/>
<circle cx="199.6" cy="656.8" r="5.1499999999999995" fill="#4c5252" stroke="#101212" stroke-width="3.7"/>
<circle cx="191.4" cy="663.4" r="5.1499999999999995" fill="#4c5252" stroke="#101212" stroke-width="3.7"/>
<circle cx="216.0" cy="661.8" r="5.1499999999999995" fill="#4c5252" stroke="#101212" stroke-width="3.7"/>
<circle cx="224.8" cy="666.2" r="5.1499999999999995" fill="#4c5252" stroke="#101212" stroke-width="3.7"/>
<circle cx="207.8" cy="670.8" r="5.1499999999999995" fill="#4c5252" stroke="#101212" stroke-width="3.7"/>
<circle cx="199.6" cy="677.7" r="5.1499999999999995" fill="#4c5252" stroke="#101212" stroke-width="3.7"/>
<circle cx="216.0" cy="677.1" r="5.1499999999999995" fill="#4c5252" stroke="#101212" stroke-width="3.7"/>
<circle cx="224.8" cy="682.6" r="5.1499999999999995" fill="#4c5252" stroke="#101212" stroke-width="3.7"/>
<circle cx="191.4" cy="689.2" r="5.1499999999999995" fill="#4c5252" stroke="#101212" stroke-width="3.7"/>
<circle cx="207.8" cy="690.8" r="5.1499999999999995" fill="#4c5252" stroke="#101212" stroke-width="3.7"/>
<circle cx="207.8" cy="733.0" r="5.1499999999999995" fill="#4c5252" stroke="#101212" stroke-width="3.7"/>
<line x1="180.4" y1="654.7" x2="235.8" y2="654.7" stroke="#0e0e0e" stroke-width="4.2"/>
<circle cx="323.1" cy="719.0" r="5.3" fill="#ffffff" stroke="#111111" stroke-width="3.0"/>
<circle cx="307.4" cy="732.5" r="5.3" fill="#ffffff" stroke="#111111" stroke-width="3.0"/>
<circle cx="307.0" cy="758.3" r="5.3" fill="#ffffff" stroke="#111111" stroke-width="3.0"/>
<circle cx="307.0" cy="765.6" r="5.3" fill="#ffffff" stroke="#111111" stroke-width="3.0"/>
<circle cx="323.1" cy="765.8" r="5.3" fill="#ffffff" stroke="#111111" stroke-width="3.0"/>
<circle cx="323.1" cy="773.8" r="5.3" fill="#ffffff" stroke="#111111" stroke-width="3.0"/>
<circle cx="313.9" cy="791.0" r="5.3" fill="#ffffff" stroke="#111111" stroke-width="3.0"/>
<circle cx="305.5" cy="800.1" r="5.3" fill="#ffffff" stroke="#111111" stroke-width="3.0"/>
<circle cx="323.1" cy="808.5" r="5.3" fill="#ffffff" stroke="#111111" stroke-width="3.0"/>
<circle cx="297.5" cy="812.1" r="5.3" fill="#ffffff" stroke="#111111" stroke-width="3.0"/>
<circle cx="331.1" cy="817.6" r="5.3" fill="#ffffff" stroke="#111111" stroke-width="3.0"/>
<circle cx="313.9" cy="824.2" r="5.3" fill="#ffffff" stroke="#111111" stroke-width="3.0"/>
<line x1="287.6" y1="780.4" x2="342.4" y2="780.4" stroke="#0e0e0e" stroke-width="4.2"/>
<circle cx="405.3" cy="600.3" r="5.3" fill="#ffffff" stroke="#111111" stroke-width="3.0"/>
<circle cx="388.8" cy="607.6" r="5.3" fill="#ffffff" stroke="#111111" stroke-width="3.0"/>
<circle cx="412.6" cy="608.7" r="5.3" fill="#ffffff" stroke="#111111" stroke-width="3.0"/>
<circle cx="380.8" cy="611.2" r="5.3" fill="#ffffff" stroke="#111111" stroke-width="3.0"/>
<circle cx="396.1" cy="616.7" r="5.3" fill="#ffffff" stroke="#111111" stroke-width="3.0"/>
<circle cx="396.1" cy="637.5" r="5.3" fill="#ffffff" stroke="#111111" stroke-width="3.0"/>
<circle cx="396.1" cy="664.2" r="5.3" fill="#ffffff" stroke="#111111" stroke-width="3.0"/>
<circle cx="396.1" cy="678.8" r="5.3" fill="#ffffff" stroke="#111111" stroke-width="3.0"/>
<line x1="368.7" y1="627.7" x2="424.2" y2="627.7" stroke="#0e0e0e" stroke-width="4.2"/>
<line x1="124.2" y1="569.8" x2="208.1" y2="569.8" stroke="#141414" stroke-width="3.8"/>
<line x1="313.9" y1="583.8" x2="398.0" y2="583.8" stroke="#141414" stroke-width="3.8"/>
<g filter="url(#txt)">
<text x="21.0" y="506.2" font-size="21" text-anchor="start" font-weight="normal" font-style="italic" textLength="79.5" lengthAdjust="spacingAndGlyphs" transform="translate(0 -40.50) scale(1 1.08)" style="stroke-width:1.15px">EmGFP</text>
<text x="124.2" y="529.0" font-size="21" text-anchor="start" font-weight="bold" textLength="82.5" lengthAdjust="spacingAndGlyphs" transform="translate(0 -42.32) scale(1 1.08)">BTN3A1</text>
<text x="313.5" y="529.0" font-size="21" text-anchor="start" font-weight="bold" textLength="85.0" lengthAdjust="spacingAndGlyphs" transform="translate(0 -42.32) scale(1 1.08)">BTN3A2</text>
<text x="74.3" y="833.4" font-size="18.5" text-anchor="end" font-weight="bold" transform="translate(0 -66.67) scale(1 1.08)">0</text>
<text x="74.3" y="779.0" font-size="18.5" text-anchor="end" font-weight="bold" transform="translate(0 -62.32) scale(1 1.08)">20</text>
<text x="74.3" y="724.7" font-size="18.5" text-anchor="end" font-weight="bold" transform="translate(0 -57.98) scale(1 1.08)">40</text>
<text x="74.3" y="670.4" font-size="18.5" text-anchor="end" font-weight="bold" transform="translate(0 -53.63) scale(1 1.08)">60</text>
<text x="74.3" y="616.0" font-size="18.5" text-anchor="end" font-weight="bold" transform="translate(0 -49.28) scale(1 1.08)">80</text>
<text x="74.3" y="561.6" font-size="18.5" text-anchor="end" font-weight="bold" transform="translate(0 -44.93) scale(1 1.08)">100</text>
<text x="32.5" y="688.7" font-size="17.5" text-anchor="middle" font-weight="bold" textLength="199.0" lengthAdjust="spacingAndGlyphs" transform="rotate(-90 32.5 688.7) translate(0 -55.10) scale(1 1.08)">Immobile fraction (%)</text>
<text x="166.0" y="571.9" font-size="23" text-anchor="middle" font-weight="bold" textLength="28.8" lengthAdjust="spacingAndGlyphs">***</text>
<text x="355.3" y="586.4" font-size="23" text-anchor="middle" font-weight="bold" textLength="28.8" lengthAdjust="spacingAndGlyphs">***</text>
<text x="126.2" y="854.0" font-size="15" text-anchor="middle" font-weight="bold" transform="translate(0 -68.32) scale(1 1.08)">(-)</text>
<text x="206.2" y="854.0" font-size="15" text-anchor="middle" font-weight="bold" transform="translate(0 -68.32) scale(1 1.08)">#20.1</text>
<text x="314.6" y="854.0" font-size="15" text-anchor="middle" font-weight="bold" transform="translate(0 -68.32) scale(1 1.08)">(-)</text>
<text x="394.5" y="854.0" font-size="15" text-anchor="middle" font-weight="bold" transform="translate(0 -68.32) scale(1 1.08)">#20.1</text>
</g>
<line x1="581.9" y1="549.1" x2="581.9" y2="827.7" stroke="#141414" stroke-width="3.7"/>
<line x1="574.8" y1="825.8" x2="993.5" y2="825.8" stroke="#141414" stroke-width="3.8"/>
<line x1="574.8" y1="825.8" x2="582.0" y2="825.8" stroke="#141414" stroke-width="3.4"/>
<line x1="574.8" y1="770.8" x2="582.0" y2="770.8" stroke="#141414" stroke-width="3.4"/>
<line x1="574.8" y1="715.8" x2="582.0" y2="715.8" stroke="#141414" stroke-width="3.4"/>
<line x1="574.8" y1="660.7" x2="582.0" y2="660.7" stroke="#141414" stroke-width="3.4"/>
<line x1="574.8" y1="605.7" x2="582.0" y2="605.7" stroke="#141414" stroke-width="3.4"/>
<line x1="574.8" y1="550.7" x2="582.0" y2="550.7" stroke="#141414" stroke-width="3.4"/>
<line x1="604.3" y1="825.8" x2="604.3" y2="833.6" stroke="#141414" stroke-width="3.3"/>
<line x1="650.9" y1="825.8" x2="650.9" y2="833.6" stroke="#141414" stroke-width="3.3"/>
<line x1="696.3" y1="825.8" x2="696.3" y2="833.6" stroke="#141414" stroke-width="3.3"/>
<line x1="742.2" y1="825.8" x2="742.2" y2="833.6" stroke="#141414" stroke-width="3.3"/>
<line x1="787.8" y1="825.8" x2="787.8" y2="833.6" stroke="#141414" stroke-width="3.3"/>
<line x1="878.3" y1="825.8" x2="878.3" y2="833.6" stroke="#141414" stroke-width="3.3"/>
<line x1="925.3" y1="825.8" x2="925.3" y2="833.6" stroke="#141414" stroke-width="3.3"/>
<line x1="970.8" y1="825.8" x2="970.8" y2="833.6" stroke="#141414" stroke-width="3.3"/>
<line x1="833.9" y1="550.4" x2="833.9" y2="834.0" stroke="#141414" stroke-width="3.5" stroke-dasharray="8.2 11.5"/>
<circle cx="600.6" cy="743.9" r="5.1499999999999995" fill="#4c5252" stroke="#101212" stroke-width="3.7"/>
<circle cx="617.0" cy="752.5" r="5.1499999999999995" fill="#4c5252" stroke="#101212" stroke-width="3.7"/>
<circle cx="593.9" cy="759.6" r="5.1499999999999995" fill="#4c5252" stroke="#101212" stroke-width="3.7"/>
<circle cx="604.6" cy="763.3" r="5.1499999999999995" fill="#4c5252" stroke="#101212" stroke-width="3.7"/>
<circle cx="610.8" cy="771.0" r="5.1499999999999995" fill="#4c5252" stroke="#101212" stroke-width="3.7"/>
<circle cx="592.3" cy="769.4" r="5.1499999999999995" fill="#4c5252" stroke="#101212" stroke-width="3.7"/>
<circle cx="600.0" cy="775.6" r="5.1499999999999995" fill="#4c5252" stroke="#101212" stroke-width="3.7"/>
<circle cx="592.3" cy="781.8" r="5.1499999999999995" fill="#4c5252" stroke="#101212" stroke-width="3.7"/>
<circle cx="617.0" cy="786.4" r="5.1499999999999995" fill="#4c5252" stroke="#101212" stroke-width="3.7"/>
<circle cx="603.1" cy="787.9" r="5.1499999999999995" fill="#4c5252" stroke="#101212" stroke-width="3.7"/>
<circle cx="592.3" cy="797.2" r="5.1499999999999995" fill="#4c5252" stroke="#101212" stroke-width="3.7"/>
<circle cx="609.3" cy="797.2" r="5.1499999999999995" fill="#4c5252" stroke="#101212" stroke-width="3.7"/>
<circle cx="617.0" cy="801.8" r="5.1499999999999995" fill="#4c5252" stroke="#101212" stroke-width="3.7"/>
<circle cx="600.0" cy="805.8" r="5.1499999999999995" fill="#4c5252" stroke="#101212" stroke-width="3.7"/>
<circle cx="617.0" cy="775.6" r="5.1499999999999995" fill="#4c5252" stroke="#101212" stroke-width="3.7"/>
<circle cx="606.5" cy="779.5" r="5.1499999999999995" fill="#4c5252" stroke="#101212" stroke-width="3.7"/>
<circle cx="598.5" cy="791.5" r="5.1499999999999995" fill="#4c5252" stroke="#101212" stroke-width="3.7"/>
<line x1="586.0" y1="777.1" x2="623.0" y2="777.1" stroke="#0e0e0e" stroke-width="4.2"/>
<circle cx="642.2" cy="589.9" r="5.1499999999999995" fill="#4c5252" stroke="#101212" stroke-width="3.7"/>
<circle cx="659.2" cy="586.2" r="5.1499999999999995" fill="#4c5252" stroke="#101212" stroke-width="3.7"/>
<circle cx="650.8" cy="598.5" r="5.1499999999999995" fill="#4c5252" stroke="#101212" stroke-width="3.7"/>
<circle cx="642.2" cy="615.4" r="5.1499999999999995" fill="#4c5252" stroke="#101212" stroke-width="3.7"/>
<circle cx="659.0" cy="612.5" r="5.1499999999999995" fill="#4c5252" stroke="#101212" stroke-width="3.7"/>
<circle cx="642.2" cy="625.3" r="5.1499999999999995" fill="#4c5252" stroke="#101212" stroke-width="3.7"/>
<circle cx="659.2" cy="623.1" r="5.1499999999999995" fill="#4c5252" stroke="#101212" stroke-width="3.7"/>
<circle cx="642.2" cy="658.6" r="5.1499999999999995" fill="#4c5252" stroke="#101212" stroke-width="3.7"/>
<circle cx="659.2" cy="655.5" r="5.1499999999999995" fill="#4c5252" stroke="#101212" stroke-width="3.7"/>
<circle cx="650.8" cy="663.2" r="5.1499999999999995" fill="#4c5252" stroke="#101212" stroke-width="3.7"/>
<circle cx="659.2" cy="666.3" r="5.1499999999999995" fill="#4c5252" stroke="#101212" stroke-width="3.7"/>
<circle cx="642.2" cy="678.6" r="5.1499999999999995" fill="#4c5252" stroke="#101212" stroke-width="3.7"/>
<circle cx="642.2" cy="693.1" r="5.1499999999999995" fill="#4c5252" stroke="#101212" stroke-width="3.7"/>
<circle cx="659.2" cy="693.1" r="5.1499999999999995" fill="#4c5252" stroke="#101212" stroke-width="3.7"/>
<circle cx="650.8" cy="699.2" r="5.1499999999999995" fill="#4c5252" stroke="#101212" stroke-width="3.7"/>
<circle cx="650.8" cy="719.5" r="5.1499999999999995" fill="#4c5252" stroke="#101212" stroke-width="3.7"/>
<line x1="635.4" y1="649.3" x2="665.0" y2="649.3" stroke="#0e0e0e" stroke-width="4.6"/>
<circle cx="696.4" cy="668.4" r="5.1499999999999995" fill="#4c5252" stroke="#101212" stroke-width="3.7"/>
<circle cx="704.7" cy="686.9" r="5.1499999999999995" fill="#4c5252" stroke="#101212" stroke-width="3.7"/>
<circle cx="687.8" cy="696.1" r="5.1499999999999995" fill="#4c5252" stroke="#101212" stroke-width="3.7"/>
<circle cx="697.0" cy="701.7" r="5.1499999999999995" fill="#4c5252" stroke="#101212" stroke-width="3.7"/>
<circle cx="701.7" cy="712.5" r="5.1499999999999995" fill="#4c5252" stroke="#101212" stroke-width="3.7"/>
<circle cx="687.8" cy="717.1" r="5.1499999999999995" fill="#4c5252" stroke="#101212" stroke-width="3.7"/>
<circle cx="705.7" cy="720.2" r="5.1499999999999995" fill="#4c5252" stroke="#101212" stroke-width="3.7"/>
<circle cx="695.5" cy="727.9" r="5.1499999999999995" fill="#4c5252" stroke="#101212" stroke-width="3.7"/>
<circle cx="687.8" cy="735.6" r="5.1499999999999995" fill="#4c5252" stroke="#101212" stroke-width="3.7"/>
<circle cx="704.7" cy="735.6" r="5.1499999999999995" fill="#4c5252" stroke="#101212" stroke-width="3.7"/>
<circle cx="695.5" cy="743.9" r="5.1499999999999995" fill="#4c5252" stroke="#101212" stroke-width="3.7"/>
<circle cx="687.8" cy="757.1" r="5.1499999999999995" fill="#4c5252" stroke="#101212" stroke-width="3.7"/>
<circle cx="701.7" cy="755.6" r="5.1499999999999995" fill="#4c5252" stroke="#101212" stroke-width="3.7"/>
<circle cx="695.5" cy="763.3" r="5.1499999999999995" fill="#4c5252" stroke="#101212" stroke-width="3.7"/>
<circle cx="704.7" cy="763.3" r="5.1499999999999995" fill="#4c5252" stroke="#101212" stroke-width="3.7"/>
<circle cx="688.0" cy="706.0" r="5.1499999999999995" fill="#4c5252" stroke="#101212" stroke-width="3.7"/>
<circle cx="688.0" cy="747.0" r="5.1499999999999995" fill="#4c5252" stroke="#101212" stroke-width="3.7"/>
<circle cx="697.0" cy="716.0" r="5.1499999999999995" fill="#4c5252" stroke="#101212" stroke-width="3.7"/>
<circle cx="703.5" cy="728.5" r="5.1499999999999995" fill="#4c5252" stroke="#101212" stroke-width="3.7"/>
<circle cx="697.0" cy="751.0" r="5.1499999999999995" fill="#4c5252" stroke="#101212" stroke-width="3.7"/>
<circle cx="690.5" cy="727.0" r="5.1499999999999995" fill="#4c5252" stroke="#101212" stroke-width="3.7"/>
<circle cx="703.0" cy="746.5" r="5.1499999999999995" fill="#4c5252" stroke="#101212" stroke-width="3.7"/>
<line x1="681.6" y1="726.3" x2="711.0" y2="726.3" stroke="#0e0e0e" stroke-width="4.2"/>
<circle cx="737.6" cy="715.9" r="5.1499999999999995" fill="#4c5252" stroke="#101212" stroke-width="3.7"/>
<circle cx="755.1" cy="724.4" r="5.1499999999999995" fill="#4c5252" stroke="#101212" stroke-width="3.7"/>
<circle cx="735.6" cy="728.2" r="5.1499999999999995" fill="#4c5252" stroke="#101212" stroke-width="3.7"/>
<circle cx="730.3" cy="738.4" r="5.1499999999999995" fill="#4c5252" stroke="#101212" stroke-width="3.7"/>
<circle cx="741.4" cy="737.0" r="5.1499999999999995" fill="#4c5252" stroke="#101212" stroke-width="3.7"/>
<circle cx="747.8" cy="742.8" r="5.1499999999999995" fill="#4c5252" stroke="#101212" stroke-width="3.7"/>
<circle cx="730.3" cy="767.7" r="5.1499999999999995" fill="#4c5252" stroke="#101212" stroke-width="3.7"/>
<circle cx="745.8" cy="763.3" r="5.1499999999999995" fill="#4c5252" stroke="#101212" stroke-width="3.7"/>
<circle cx="730.3" cy="775.0" r="5.1499999999999995" fill="#4c5252" stroke="#101212" stroke-width="3.7"/>
<circle cx="745.8" cy="772.0" r="5.1499999999999995" fill="#4c5252" stroke="#101212" stroke-width="3.7"/>
<circle cx="754.6" cy="783.7" r="5.1499999999999995" fill="#4c5252" stroke="#101212" stroke-width="3.7"/>
<circle cx="737.6" cy="789.6" r="5.1499999999999995" fill="#4c5252" stroke="#101212" stroke-width="3.7"/>
<circle cx="739.9" cy="766.2" r="5.1499999999999995" fill="#4c5252" stroke="#101212" stroke-width="3.7"/>
<line x1="726.8" y1="753.0" x2="757.5" y2="753.0" stroke="#0e0e0e" stroke-width="4.2"/>
<circle cx="787.6" cy="738.4" r="5.1499999999999995" fill="#4c5252" stroke="#101212" stroke-width="3.7"/>
<circle cx="780.0" cy="773.5" r="5.1499999999999995" fill="#4c5252" stroke="#101212" stroke-width="3.7"/>
<circle cx="780.0" cy="780.8" r="5.1499999999999995" fill="#4c5252" stroke="#101212" stroke-width="3.7"/>
<circle cx="797.0" cy="779.4" r="5.1499999999999995" fill="#4c5252" stroke="#101212" stroke-width="3.7"/>
<circle cx="780.0" cy="792.5" r="5.1499999999999995" fill="#4c5252" stroke="#101212" stroke-width="3.7"/>
<circle cx="797.0" cy="786.7" r="5.1499999999999995" fill="#4c5252" stroke="#101212" stroke-width="3.7"/>
<circle cx="796.1" cy="796.9" r="5.1499999999999995" fill="#4c5252" stroke="#101212" stroke-width="3.7"/>
<circle cx="787.6" cy="826.1" r="5.1499999999999995" fill="#4c5252" stroke="#101212" stroke-width="3.7"/>
<line x1="773.6" y1="780.2" x2="802.8" y2="780.2" stroke="#0e0e0e" stroke-width="4.2"/>
<circle cx="887.2" cy="773.4" r="5.3" fill="#ffffff" stroke="#111111" stroke-width="3.0"/>
<circle cx="871.1" cy="785.7" r="5.3" fill="#ffffff" stroke="#111111" stroke-width="3.0"/>
<circle cx="863.0" cy="796.4" r="5.3" fill="#ffffff" stroke="#111111" stroke-width="3.0"/>
<circle cx="879.5" cy="796.4" r="5.3" fill="#ffffff" stroke="#111111" stroke-width="3.0"/>
<circle cx="871.1" cy="804.9" r="5.3" fill="#ffffff" stroke="#111111" stroke-width="3.0"/>
<circle cx="887.2" cy="804.1" r="5.3" fill="#ffffff" stroke="#111111" stroke-width="3.0"/>
<circle cx="863.0" cy="813.3" r="5.3" fill="#ffffff" stroke="#111111" stroke-width="3.0"/>
<circle cx="879.5" cy="811.8" r="5.3" fill="#ffffff" stroke="#111111" stroke-width="3.0"/>
<circle cx="871.1" cy="824.1" r="5.3" fill="#ffffff" stroke="#111111" stroke-width="3.0"/>
<circle cx="887.2" cy="823.3" r="5.3" fill="#ffffff" stroke="#111111" stroke-width="3.0"/>
<line x1="863.0" y1="804.1" x2="893.0" y2="804.1" stroke="#0e0e0e" stroke-width="4.2"/>
<circle cx="934.0" cy="612.2" r="5.3" fill="#ffffff" stroke="#111111" stroke-width="3.0"/>
<circle cx="917.1" cy="614.9" r="5.3" fill="#ffffff" stroke="#111111" stroke-width="3.0"/>
<circle cx="925.6" cy="626.4" r="5.3" fill="#ffffff" stroke="#111111" stroke-width="3.0"/>
<circle cx="917.1" cy="640.6" r="5.3" fill="#ffffff" stroke="#111111" stroke-width="3.0"/>
<circle cx="934.0" cy="640.6" r="5.3" fill="#ffffff" stroke="#111111" stroke-width="3.0"/>
<circle cx="925.6" cy="649.4" r="5.3" fill="#ffffff" stroke="#111111" stroke-width="3.0"/>
<circle cx="917.1" cy="658.2" r="5.3" fill="#ffffff" stroke="#111111" stroke-width="3.0"/>
<circle cx="934.0" cy="657.1" r="5.3" fill="#ffffff" stroke="#111111" stroke-width="3.0"/>
<circle cx="925.6" cy="666.7" r="5.3" fill="#ffffff" stroke="#111111" stroke-width="3.0"/>
<circle cx="917.1" cy="676.3" r="5.3" fill="#ffffff" stroke="#111111" stroke-width="3.0"/>
<circle cx="934.0" cy="687.8" r="5.3" fill="#ffffff" stroke="#111111" stroke-width="3.0"/>
<circle cx="925.6" cy="690.9" r="5.3" fill="#ffffff" stroke="#111111" stroke-width="3.0"/>
<circle cx="925.6" cy="709.7" r="5.3" fill="#ffffff" stroke="#111111" stroke-width="3.0"/>
<circle cx="925.6" cy="728.1" r="5.3" fill="#ffffff" stroke="#111111" stroke-width="3.0"/>
<line x1="910.2" y1="659.0" x2="941.0" y2="659.0" stroke="#0e0e0e" stroke-width="4.2"/>
<circle cx="954.4" cy="783.8" r="5.3" fill="#ffffff" stroke="#111111" stroke-width="3.0"/>
<circle cx="967.8" cy="781.1" r="5.3" fill="#ffffff" stroke="#111111" stroke-width="3.0"/>
<circle cx="979.3" cy="783.8" r="5.3" fill="#ffffff" stroke="#111111" stroke-width="3.0"/>
<circle cx="954.4" cy="795.3" r="5.3" fill="#ffffff" stroke="#111111" stroke-width="3.0"/>
<circle cx="973.6" cy="793.4" r="5.3" fill="#ffffff" stroke="#111111" stroke-width="3.0"/>
<circle cx="967.8" cy="801.0" r="5.3" fill="#ffffff" stroke="#111111" stroke-width="3.0"/>
<circle cx="981.2" cy="804.9" r="5.3" fill="#ffffff" stroke="#111111" stroke-width="3.0"/>
<circle cx="954.4" cy="814.5" r="5.3" fill="#ffffff" stroke="#111111" stroke-width="3.0"/>
<circle cx="971.6" cy="814.5" r="5.3" fill="#ffffff" stroke="#111111" stroke-width="3.0"/>
<circle cx="979.3" cy="822.1" r="5.3" fill="#ffffff" stroke="#111111" stroke-width="3.0"/>
<circle cx="962.8" cy="826.0" r="5.3" fill="#ffffff" stroke="#111111" stroke-width="3.0"/>
<circle cx="964.0" cy="789.5" r="5.3" fill="#ffffff" stroke="#111111" stroke-width="3.0"/>
<line x1="959.0" y1="799.1" x2="986.0" y2="799.1" stroke="#0e0e0e" stroke-width="4.2"/>
<path d="M604.4 565.8 V553.7 H696 V566" fill="none" stroke="#141414" stroke-width="3"/>
<line x1="650.5" y1="566.0" x2="742.0" y2="566.0" stroke="#141414" stroke-width="3.8"/>
<line x1="696.1" y1="649.2" x2="742.9" y2="649.2" stroke="#141414" stroke-width="3.6"/>
<line x1="878.3" y1="589.9" x2="924.6" y2="589.9" stroke="#141414" stroke-width="3.6"/>
<g filter="url(#txt)">
<text x="513.3" y="506.2" font-size="21" text-anchor="start" font-weight="normal" font-style="italic" textLength="90.5" lengthAdjust="spacingAndGlyphs" transform="translate(0 -40.50) scale(1 1.08)" style="stroke-width:1.15px">mCherry</text>
<text x="654.0" y="529.0" font-size="21" text-anchor="start" font-weight="bold" textLength="82.5" lengthAdjust="spacingAndGlyphs" transform="translate(0 -42.32) scale(1 1.08)">BTN3A1</text>
<text x="882.3" y="529.0" font-size="21" text-anchor="start" font-weight="bold" textLength="85.0" lengthAdjust="spacingAndGlyphs" transform="translate(0 -42.32) scale(1 1.08)">BTN3A2</text>
<text x="570.3" y="833.6" font-size="19" text-anchor="end" font-weight="bold" transform="translate(0 -66.69) scale(1 1.08)">0</text>
<text x="570.3" y="778.6" font-size="19" text-anchor="end" font-weight="bold" transform="translate(0 -62.29) scale(1 1.08)">20</text>
<text x="570.3" y="723.6" font-size="19" text-anchor="end" font-weight="bold" transform="translate(0 -57.88) scale(1 1.08)">40</text>
<text x="570.3" y="668.5" font-size="19" text-anchor="end" font-weight="bold" transform="translate(0 -53.48) scale(1 1.08)">60</text>
<text x="570.3" y="613.5" font-size="19" text-anchor="end" font-weight="bold" transform="translate(0 -49.08) scale(1 1.08)">80</text>
<text x="570.3" y="558.5" font-size="19" text-anchor="end" font-weight="bold" transform="translate(0 -44.68) scale(1 1.08)">100</text>
<text x="527.2" y="691.4" font-size="17.5" text-anchor="middle" font-weight="bold" textLength="201.5" lengthAdjust="spacingAndGlyphs" transform="rotate(-90 527.2 691.4) translate(0 -55.31) scale(1 1.08)">Immobile fraction (%)</text>
<text x="651.0" y="554.7" font-size="23" text-anchor="middle" font-weight="bold" textLength="30.5" lengthAdjust="spacingAndGlyphs">***</text>
<text x="719.5" y="652.2" font-size="23" text-anchor="middle" font-weight="bold" textLength="30.5" lengthAdjust="spacingAndGlyphs">***</text>
<text x="901.4" y="593.2" font-size="23" text-anchor="middle" font-weight="bold" textLength="29.5" lengthAdjust="spacingAndGlyphs">***</text>
<text x="604.3" y="853.8" font-size="15" text-anchor="middle" font-weight="bold" transform="translate(0 -68.30) scale(1 1.08)">(-)</text>
<text x="648.5" y="853.8" font-size="15" text-anchor="middle" font-weight="bold" transform="translate(0 -68.30) scale(1 1.08)">#20.1</text>
<text x="696.5" y="853.8" font-size="15" text-anchor="middle" font-weight="bold" transform="translate(0 -68.30) scale(1 1.08)">Pam</text>
<text x="743.3" y="853.8" font-size="15" text-anchor="middle" font-weight="bold" transform="translate(0 -68.30) scale(1 1.08)">Pam</text>
<text x="787.8" y="853.8" font-size="15" text-anchor="middle" font-weight="bold" transform="translate(0 -68.30) scale(1 1.08)">Meva</text>
<text x="879.5" y="853.8" font-size="15" text-anchor="middle" font-weight="bold" transform="translate(0 -68.30) scale(1 1.08)">(-)</text>
<text x="925.0" y="853.8" font-size="15" text-anchor="middle" font-weight="bold" transform="translate(0 -68.30) scale(1 1.08)">#20.1</text>
<text x="971.0" y="853.8" font-size="15" text-anchor="middle" font-weight="bold" transform="translate(0 -68.30) scale(1 1.08)">Pam</text>
<text x="742.5" y="871.6" font-size="15" text-anchor="middle" font-weight="bold" transform="translate(0 -69.73) scale(1 1.08)">+ Meva</text>
</g>
</svg>
</body>
</html>
